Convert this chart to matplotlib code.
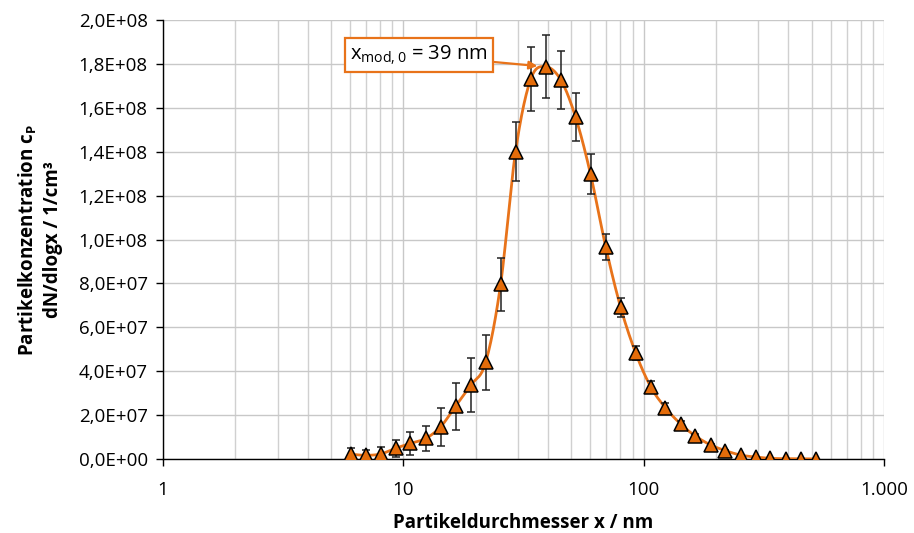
import numpy as np
import matplotlib
matplotlib.use("Agg")
import matplotlib.pyplot as plt
from matplotlib.ticker import FixedLocator, FuncFormatter, LogLocator, NullFormatter

# ---- data ----
diam_nm = [6.04, 6.97, 8.05, 9.29, 10.7, 12.4, 14.3, 16.5, 19.1, 22.0,
           25.4, 29.3, 33.9, 39.1, 45.2, 52.1, 60.1, 69.5, 80.2, 92.7,
           107, 123, 143, 164, 190, 219, 253, 292, 337, 390, 450, 519]
conc = [2.2e6, 1.7e6, 2.3e6, 4.9e6, 7.1e6, 9.4e6, 1.47e7, 2.41e7, 3.37e7, 4.40e7,
        7.96e7, 1.40e8, 1.731e8, 1.787e8, 1.727e8, 1.557e8, 1.298e8, 9.67e7, 6.91e7, 4.82e7,
        3.29e7, 2.34e7, 1.58e7, 1.05e7, 6.4e6, 3.8e6, 1.8e6, 9e5, 3e5, 1.5e5, 1e5, 5e4]
err = [2.7e6, 2.6e6, 3.0e6, 3.8e6, 5.2e6, 5.8e6, 8.6e6, 1.07e7, 1.22e7, 1.25e7,
       1.2e7, 1.35e7, 1.47e7, 1.43e7, 1.33e7, 1.1e7, 9.0e6, 6.0e6, 4.3e6, 3.3e6,
       2.8e6, 2.2e6, 1.5e6, 1.0e6, 6e5, 4e5, 2e5, 1e5, 5e4, 3e4, 2e4, 1e4]
x_ticks = [1, 10, 100, 1000]
x_tick_labels = ["1", "10", "100", "1.000"]
y_ticks = [0, 2e7, 4e7, 6e7, 8e7, 1e8, 1.2e8, 1.4e8, 1.6e8, 1.8e8, 2e8]
mode_label = r"x$_{\mathregular{mod,0}}$ = 39 nm"
mode_index = 13

orange_line = "#E8731A"
orange_fill = "#E46C0A"

plt.rcParams["font.family"] = ["Open Sans", "DejaVu Sans"]
plt.rcParams["mathtext.fontset"] = "custom"
plt.rcParams["mathtext.rm"] = "Open Sans"
plt.rcParams["mathtext.bf"] = "Open Sans:bold"

fig = plt.figure(figsize=(9.14, 5.33), dpi=100)
ax = fig.add_axes([0.1783, 0.1388, 0.9672 - 0.1783, 0.9625 - 0.1388])

# smooth curve through the points (cubic Bezier smoothing in log-x space, like Excel)
lx = np.log10(np.array(diam_nm))
yy = np.array(conc)
px = np.concatenate([[2 * lx[0] - lx[1]], lx, [2 * lx[-1] - lx[-2]]])
py = np.concatenate([[2 * yy[0] - yy[1]], yy, [2 * yy[-1] - yy[-2]]])
sx, sy = [], []
t = np.linspace(0, 1, 20, endpoint=False)
for i in range(1, len(px) - 2):
    p0x, p1x, p2x, p3x = px[i - 1:i + 3]
    p0y, p1y, p2y, p3y = py[i - 1:i + 3]
    k = 1 / 6
    c1x, c1y = p1x + (p2x - p0x) * k, p1y + (p2y - p0y) * k
    c2x, c2y = p2x - (p3x - p1x) * k, p2y - (p3y - p1y) * k
    bx = (1 - t) ** 3 * p1x + 3 * (1 - t) ** 2 * t * c1x + 3 * (1 - t) * t ** 2 * c2x + t ** 3 * p2x
    by = (1 - t) ** 3 * p1y + 3 * (1 - t) ** 2 * t * c1y + 3 * (1 - t) * t ** 2 * c2y + t ** 3 * p2y
    sx.extend(bx)
    sy.extend(by)
sx.append(lx[-1])
sy.append(yy[-1])
ax.plot(10 ** np.array(sx), sy, color=orange_line, lw=2.0, zorder=3)

ax.errorbar(diam_nm, conc, yerr=err, fmt="none", ecolor="#222222",
            elinewidth=1.1, capsize=3, capthick=1.1, zorder=4)
ax.plot(diam_nm, conc, linestyle="none", marker="^", markersize=10,
        markerfacecolor=orange_fill, markeredgecolor="black", markeredgewidth=1.1, zorder=5)

ax.set_xscale("log")
ax.set_xlim(1, 1000)
ax.set_ylim(0, 2e8)
ax.xaxis.set_major_locator(FixedLocator(x_ticks))
ax.set_xticklabels(x_tick_labels)
ax.xaxis.set_minor_locator(LogLocator(base=10, subs=np.arange(2, 10), numticks=20))
ax.xaxis.set_minor_formatter(NullFormatter())
ax.yaxis.set_major_locator(FixedLocator(y_ticks))
ax.yaxis.set_major_formatter(FuncFormatter(
    lambda v, p: ("%.1E" % v).replace(".", ",")))

ax.grid(True, which="major", color="#C8C8C8", lw=1.0, zorder=0)
ax.grid(True, which="minor", axis="x", color="#D0D0D0", lw=1.0, zorder=0)
ax.set_axisbelow(True)
for s in ["top", "right"]:
    ax.spines[s].set_visible(False)
for s in ["left", "bottom"]:
    ax.spines[s].set_color("black")
    ax.spines[s].set_linewidth(1.0)
    ax.spines[s].set_zorder(2)
ax.tick_params(axis="both", which="major", direction="out", length=5, width=1,
               labelsize=13.5, colors="black")
ax.tick_params(axis="y", which="major", pad=6)
ax.tick_params(axis="x", which="minor", length=0)
ax.tick_params(axis="x", which="major", pad=11)

ax.set_xlabel("Partikeldurchmesser x / nm", fontsize=13.5, fontweight="bold")
ax.xaxis.set_label_coords(0.5, -0.122)
ax.set_ylabel("Partikelkonzentration c$_\\mathbf{P}$\ndN/dlogx / 1/cm³",
              fontsize=13.5, fontweight="bold", linespacing=1.25)
ax.yaxis.set_label_coords(-0.139, 0.5)

ax.annotate(mode_label, xy=(diam_nm[mode_index], conc[mode_index]),
            xytext=(11.6, 1.84e8), textcoords="data", ha="center", va="center",
            fontsize=14.5, zorder=6,
            bbox=dict(boxstyle="square,pad=0.25", fc="white", ec=orange_line, lw=1.6),
            arrowprops=dict(arrowstyle="-|>", color=orange_line, lw=1.6,
                            shrinkA=0, shrinkB=6, mutation_scale=12))

fig.savefig("out.png", dpi=100)
